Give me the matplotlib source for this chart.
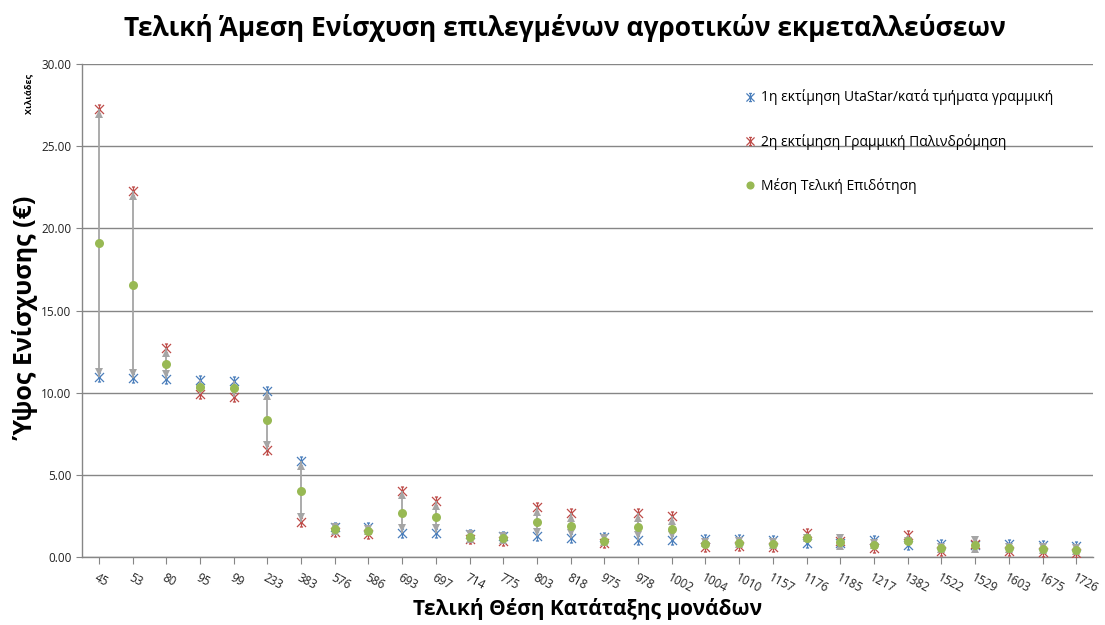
import matplotlib

matplotlib.use("Agg")
import matplotlib.pyplot as plt
import numpy as np
from matplotlib.path import Path
from matplotlib.transforms import ScaledTranslation
from matplotlib.ticker import FormatStrFormatter

plt.rcParams["font.family"] = ["Open Sans", "DejaVu Sans"]

# ranking positions of the selected farms (x categories)
ranks = ["45", "53", "80", "95", "99", "233", "383", "576", "586", "693",
         "697", "714", "775", "803", "818", "975", "978", "1002", "1004", "1010",
         "1157", "1176", "1185", "1217", "1382", "1522", "1529", "1603", "1675", "1726"]

# values in thousands of euro
est_utastar = [10.95, 10.89, 10.85, 10.75, 10.69, 10.08, 5.83, 1.85, 1.85, 1.44,
               1.44, 1.40, 1.30, 1.25, 1.17, 1.20, 1.03, 1.02, 1.12, 1.10,
               1.05, 0.85, 0.85, 1.02, 0.70, 0.78, 0.72, 0.78, 0.75, 0.68]
est_regression = [27.26, 22.27, 12.74, 9.94, 9.73, 6.52, 2.11, 1.55, 1.40, 4.04,
                  3.39, 1.10, 1.00, 3.05, 2.65, 0.85, 2.65, 2.50, 0.62, 0.65,
                  0.60, 1.45, 0.98, 0.55, 1.32, 0.34, 0.80, 0.34, 0.32, 0.24]
mean_subsidy = [19.08, 16.56, 11.73, 10.32, 10.26, 8.35, 4.00, 1.70, 1.60, 2.68,
                2.42, 1.22, 1.15, 2.14, 1.88, 0.95, 1.80, 1.70, 0.82, 0.86,
                0.80, 1.18, 0.90, 0.74, 0.98, 0.55, 0.72, 0.55, 0.48, 0.42]

label_utastar = "1η εκτίμηση UtaStar/κατά τμήματα γραμμική"
label_regression = "2η εκτίμηση Γραμμική Παλινδρόμηση"
label_mean = "Μέση Τελική Επιδότηση"

BLUE = "#4A7EBB"
RED = "#BE4B48"
GREEN = "#98B954"
GRAY = "#A5A5A5"
AXIS = "#868686"

# Excel style "star": an x, a vertical bar and two short caps
STAR = Path(
    [(-1, -1), (1, 1), (-1, 1), (1, -1), (0, -1), (0, 1),
     (-0.35, 1), (0.35, 1), (-0.35, -1), (0.35, -1)],
    [Path.MOVETO, Path.LINETO] * 5,
)

fig = plt.figure(figsize=(11.05, 6.25), dpi=100)
ax = fig.add_axes([0.0742, 0.1088, 0.915, 0.7888])

x = np.arange(len(ranks))
lo = np.minimum(est_utastar, est_regression)
hi = np.maximum(est_utastar, est_regression)

ax.plot(x, est_utastar, linestyle="none", marker=STAR, markersize=6.5,
        markeredgecolor=BLUE, markerfacecolor="none", markeredgewidth=0.9,
        label=label_utastar, zorder=3)
ax.plot(x, est_regression, linestyle="none", marker=STAR, markersize=6.5,
        markeredgecolor=RED, markerfacecolor="none", markeredgewidth=0.9,
        label=label_regression, zorder=3)

# grey high-low arrows; heads sit just inside the extremes
ax.vlines(x, lo, hi, color=GRAY, linewidth=1.3, zorder=4)
shift = 3.5 / 72
ax.plot(x, hi, linestyle="none", marker="^", markersize=6, color=GRAY,
        markeredgewidth=0, zorder=4,
        transform=ax.transData + ScaledTranslation(0, -shift, fig.dpi_scale_trans))
ax.plot(x, lo, linestyle="none", marker="v", markersize=6, color=GRAY,
        markeredgewidth=0, zorder=4,
        transform=ax.transData + ScaledTranslation(0, shift, fig.dpi_scale_trans))

ax.plot(x, mean_subsidy, linestyle="none", marker="o", markersize=6.5,
        color=GREEN, markeredgewidth=0, label=label_mean, zorder=5)

ax.set_xlim(-0.5, len(ranks) - 0.5)
ax.set_ylim(0, 30)
ax.set_yticks(np.arange(0, 30.1, 5))
ax.yaxis.set_major_formatter(FormatStrFormatter("%.2f"))
ax.yaxis.grid(True, color=AXIS, linewidth=1.0)
ax.set_axisbelow(True)

ax.set_xticks(x)
ax.set_xticklabels(ranks, rotation=-28, ha="left", va="top",
                   rotation_mode="anchor", fontsize=8.5, color="#222222")
ax.tick_params(axis="x", length=5, color=AXIS, pad=5)
ax.tick_params(axis="y", length=4, color=AXIS, labelsize=8.5, labelcolor="#222222")
for side in ("top", "right"):
    ax.spines[side].set_visible(False)
for side in ("left", "bottom"):
    ax.spines[side].set_color(AXIS)
    ax.spines[side].set_linewidth(1.0)

fig.text(0.511, 0.955, "Τελική Άμεση Ενίσχυση επιλεγμένων αγροτικών εκμεταλλεύσεων",
         ha="center", va="center", fontsize=19, fontweight="bold")
fig.text(0.532, 0.026, "Τελική Θέση Κατάταξης μονάδων",
         ha="center", va="center", fontsize=15, fontweight="bold")
fig.text(0.024, 0.49, "Ύψος Ενίσχυσης (€)", rotation=90,
         ha="center", va="center", fontsize=18, fontweight="bold")
fig.text(0.026, 0.85, "Χιλιάδες", rotation=90,
         ha="center", va="center", fontsize=6.5, fontweight="bold")

ax.legend(loc="upper left", bbox_to_anchor=(0.664, 0.877),
          bbox_transform=fig.transFigure, frameon=False, fontsize=10,
          labelspacing=2.05, handlelength=0.6, handletextpad=0.5,
          markerscale=0.9)

fig.savefig("out.png", dpi=100)
